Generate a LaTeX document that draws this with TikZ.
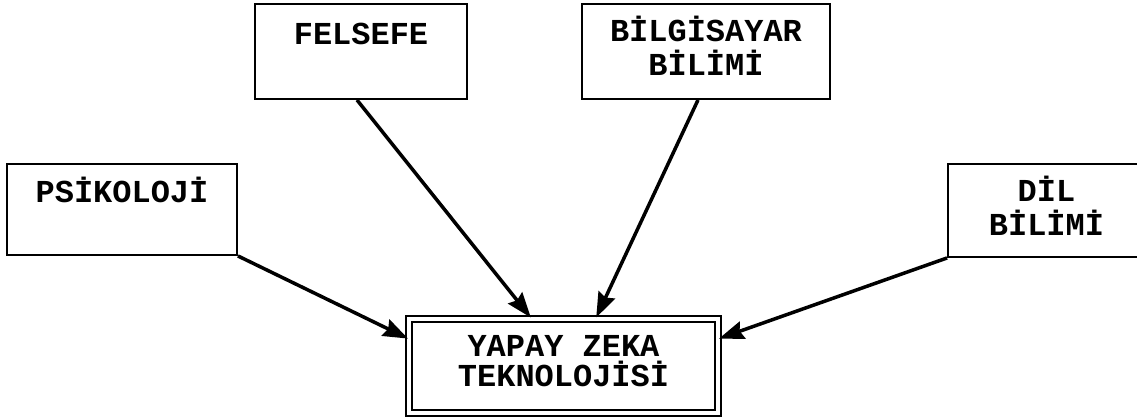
\documentclass[tikz,border=0pt]{standalone}
\usepackage{fontspec}
\newfontfamily\daktilo{Liberation Mono}
\usetikzlibrary{arrows.meta}

\begin{document}
\begin{tikzpicture}[x=0.02cm,y=-0.02cm]
\tikzstyle{every node}+=[inner sep=0pt]
\tikzstyle{kutu}=[draw, line width=1.1pt]
\tikzstyle{yazi}=[font=\daktilo\bfseries\fontsize{18.2}{19.3}\selectfont, align=center, anchor=base]
\tikzstyle{ok}=[line width=2pt, -{Stealth[length=0.5cm, width=0.36cm, inset=0.06cm]}]
\useasboundingbox (0,0) rectangle (1137,419);
% kutular
\node [kutu, minimum width=4.6cm, minimum height=1.82cm] (psi) at (122,209.5) {};
\node [kutu, minimum width=4.24cm, minimum height=1.9cm] (fel) at (361,51.5) {};
\node [kutu, minimum width=4.96cm, minimum height=1.9cm] (bil) at (706,51.5) {};
\node [kutu, minimum width=3.94cm, minimum height=1.86cm] (dil) at (1046.5,210.5) {};
\node [kutu, double, double distance=0.08cm, line width=0.04cm, minimum width=6.18cm, minimum height=1.9cm] (yz) at (563.5,366) {};
% yazilar (cok satirlida base = son satir)
\node [yazi] (psiy) at ([yshift=-0.78cm]psi.north) {PSİKOLOJİ};
\node [yazi] (fely) at ([yshift=-0.82cm]fel.north) {FELSEFE};
\node [yazi] (bily) at ([yshift=-1.44cm]bil.north) {BİLGİSAYAR\\BİLİMİ};
\node [yazi] (dily) at ([yshift=-1.44cm]dil.north) {DİL\\BİLİMİ};
\node [yazi, font=\daktilo\bfseries\fontsize{18.2}{17.6}\selectfont] (yzy) at ([yshift=-1.39cm]yz.north) {YAPAY ZEKA\\TEKNOLOJİSİ};
% oklar
\draw [ok] (psi.south east) -- (yz.170);
\draw [ok] ([xshift=-0.08cm]fel.south) -- (yz.124);
\draw [ok] ([xshift=-0.16cm]bil.south) -- (yz.56);
\draw [ok] (dil.south west) -- (yz.10);
\end{tikzpicture}
\end{document}
